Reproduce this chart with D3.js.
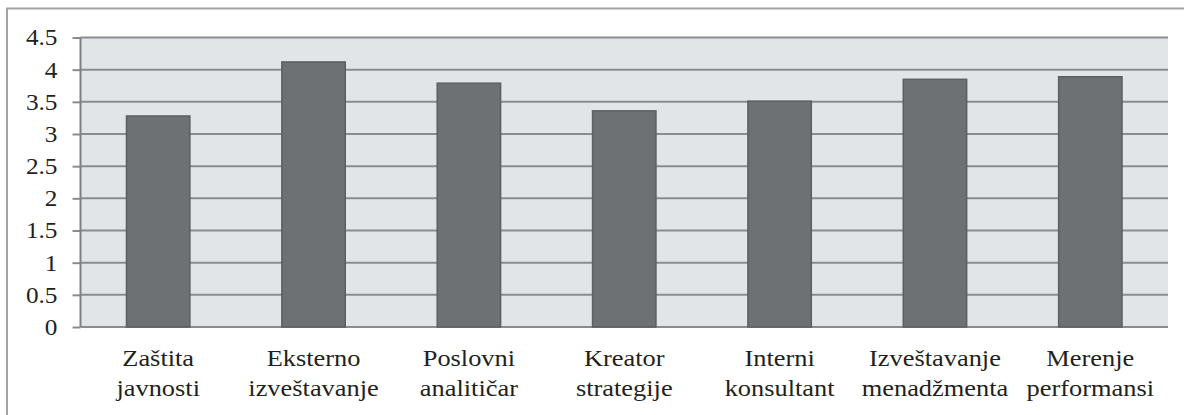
<!DOCTYPE html>
<html>
<head>
<meta charset="utf-8">
<script src="https://cdn.jsdelivr.net/npm/d3@7"></script>
<style>
  body { margin: 0; background: #fff; }
  svg { display: block; }
</style>
</head>
<body>
<div id="chart"></div>
<script>
// data
const categories = [
  ["Zaštita", "javnosti"],
  ["Eksterno", "izveštavanje"],
  ["Poslovni", "analitičar"],
  ["Kreator", "strategije"],
  ["Interni", "konsultant"],
  ["Izveštavanje", "menadžmenta"],
  ["Merenje", "performansi"]
];
const values = [3.28, 4.12, 3.79, 3.36, 3.51, 3.85, 3.89];
const yTicks = [0, 0.5, 1, 1.5, 2, 2.5, 3, 3.5, 4, 4.5];

const width = 1184, height = 415;
const margin = { top: 37.5, right: 16, bottom: 88, left: 80.5 };
const serif = "'Liberation Serif', 'Times New Roman', Times, serif";
const stretch = 1.1; // source text is slightly wider than plain Times

const svg = d3.select("#chart").append("svg")
  .attr("width", width)
  .attr("height", height);

// outer frame
svg.append("path")
  .attr("d", `M7,${height} V8.5 H${width}`)
  .attr("fill", "none")
  .attr("stroke", "#a3a3a3")
  .attr("stroke-width", 2);

const x = d3.scaleBand()
  .domain(d3.range(categories.length))
  .range([margin.left, width - margin.right])
  .paddingInner(0.592)
  .paddingOuter(0.296);

const y = d3.scaleLinear()
  .domain([0, 4.5])
  .range([height - margin.bottom, margin.top]);

// plot background
svg.append("rect")
  .attr("x", margin.left)
  .attr("y", y(4.5))
  .attr("width", width - margin.right - margin.left)
  .attr("height", y(0) - y(4.5))
  .attr("fill", "#e2e5e8");

// y axis ticks + labels
const yAxis = svg.append("g")
  .attr("transform", `translate(${margin.left},0)`)
  .call(d3.axisLeft(y)
    .tickValues(yTicks)
    .tickFormat(d => d)
    .tickSize(8)
    .tickPadding(15));
yAxis.attr("font-family", null).attr("font-size", null);
yAxis.select(".domain").remove();
yAxis.selectAll(".tick line")
  .attr("stroke", "#8a8d90")
  .attr("stroke-width", 2);
yAxis.selectAll(".tick text")
  .attr("x", -23 / stretch)
  .attr("transform", `scale(${stretch},1)`)
  .style("font-family", serif)
  .style("font-size", "23px")
  .attr("fill", "#231f20");

// gridlines
svg.append("g")
  .selectAll("line")
  .data(yTicks)
  .join("line")
  .attr("x1", margin.left)
  .attr("x2", width - margin.right)
  .attr("y1", d => y(d))
  .attr("y2", d => y(d))
  .attr("stroke", "#8a8d90")
  .attr("stroke-width", 2);

// bars
svg.append("g")
  .selectAll("rect")
  .data(values)
  .join("rect")
  .attr("x", (d, i) => x(i))
  .attr("y", d => y(d))
  .attr("width", x.bandwidth())
  .attr("height", d => y(0) - y(d))
  .attr("fill", "#6e7174")
  .attr("stroke", "#5c5f62")
  .attr("stroke-width", 1.5);

// left axis line
svg.append("line")
  .attr("x1", margin.left).attr("x2", margin.left)
  .attr("y1", y(4.5)).attr("y2", y(0))
  .attr("stroke", "#7d8083")
  .attr("stroke-width", 2);

// category labels
const labels = svg.append("g")
  .selectAll("text")
  .data(categories)
  .join("text")
  .attr("text-anchor", "middle")
  .style("font-family", serif)
  .style("font-size", "24px")
  .attr("fill", "#231f20")
  .attr("transform", (d, i) => `translate(${x(i) + x.bandwidth() / 2},0) scale(${stretch},1)`);

labels.selectAll("tspan")
  .data(d => d)
  .join("tspan")
  .attr("x", 0)
  .attr("y", (d, j) => 366.5 + j * 30)
  .text(d => d);
</script>
</body>
</html>
